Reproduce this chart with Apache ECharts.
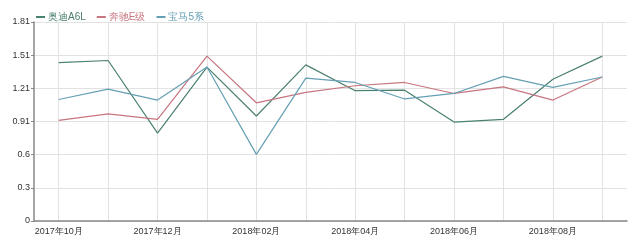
<!DOCTYPE html>
<html><head><meta charset="utf-8">
<script src="https://cdn.jsdelivr.net/npm/echarts@6/dist/echarts.min.js"></script>
<style>html,body{margin:0;padding:0;background:#fff}#c{width:640px;height:248px}</style>
</head><body><div id="c"></div>
<script>
var categories = ['2017年10月','2017年11月','2017年12月','2018年01月','2018年02月','2018年03月','2018年04月','2018年05月','2018年06月','2018年07月','2018年08月','2018年09月'];
var seriesNames = ['奥迪A6L','奔驰E级','宝马5系'];
var audi = [1.44, 1.46, 0.80, 1.40, 0.955, 1.42, 1.185, 1.19, 0.90, 0.925, 1.29, 1.50];
var benz = [0.915, 0.975, 0.925, 1.50, 1.075, 1.17, 1.23, 1.26, 1.16, 1.22, 1.10, 1.31];
var bmw = [1.105, 1.20, 1.10, 1.40, 0.606, 1.30, 1.26, 1.11, 1.16, 1.315, 1.215, 1.31];
var yMax = 1.81;
var colors = ['#4a8070', '#c7757f', '#659fb4'];

var chart = echarts.init(document.getElementById('c'), null, {renderer:'canvas'});
var values = [audi, benz, bmw];
chart.setOption({
  animation: false,
  color: colors,
  legend: {
    left: 31, top: 7, itemGap: 11, itemWidth: 9, itemHeight: 2, icon: 'rect',
    textStyle: {fontSize: 10, padding: [0,0,0,-2]},
    data: seriesNames.map(function(n,i){return {name:n, textStyle:{color:colors[i]}};})
  },
  grid: {left: 34, right: 13, top: 22, bottom: 27, containLabel: false},
  xAxis: {
    type: 'category', data: categories, boundaryGap: true,
    axisLine: {lineStyle: {color: '#888', width: 1.5}},
    axisTick: {alignWithLabel: true, interval: 0, length: 3, lineStyle:{color:'#888'}},
    axisLabel: {interval: 1, fontSize: 9, color: '#333', margin: 6},
    splitLine: {show: true, alignWithLabel: true, interval: 0, lineStyle: {color: '#e2e2e2'}}
  },
  yAxis: {
    type: 'value', min: 0, max: yMax, interval: yMax/6,
    axisLine: {show: true, lineStyle: {color: '#888', width: 1.5}},
    axisTick: {show: true, length: 3, lineStyle:{color:'#888'}},
    axisLabel: {fontSize: 9, color: '#333', margin: 4, formatter: function(v){return String(parseFloat(v.toFixed(2)));}},
    splitLine: {show: true, lineStyle: {color: '#e2e2e2'}}
  },
  series: seriesNames.map(function(n,i){
    return {name:n, type:'line', data: values[i], showSymbol:false, symbol:'none',
      lineStyle:{width:1.2, color: colors[i]}};
  })
});
</script></body></html>
